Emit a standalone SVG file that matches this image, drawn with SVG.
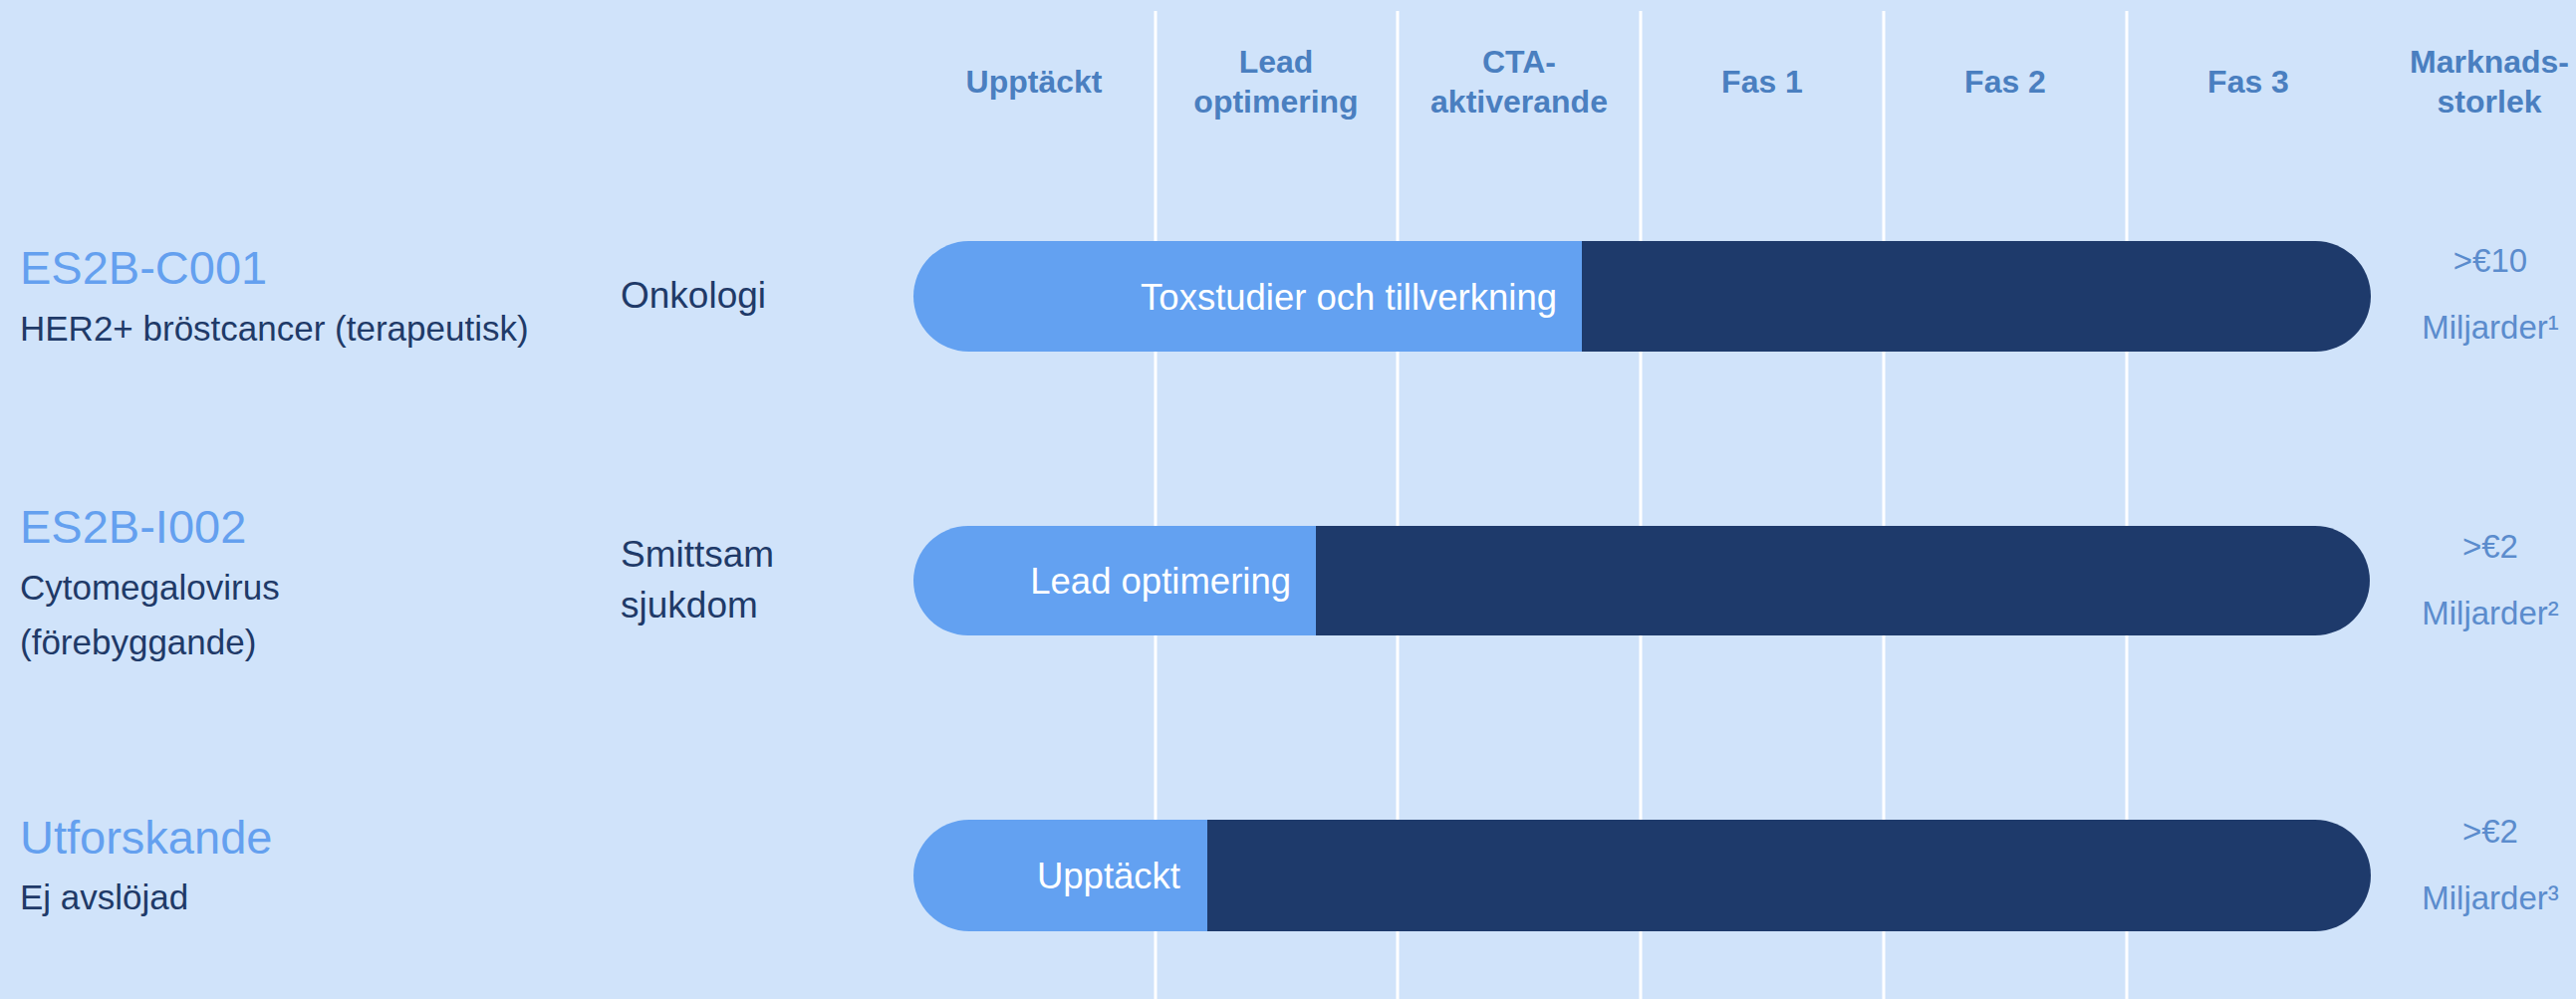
<svg xmlns="http://www.w3.org/2000/svg" width="2586" height="1003" viewBox="0 0 2586 1003">
<style>
.hd{font-family:"Liberation Sans",Arial,sans-serif;font-weight:bold;font-size:32px;fill:#4a7fc0;text-anchor:middle}
.ttl{font-family:"Liberation Sans",Arial,sans-serif;font-size:47px;fill:#64a0ef}
.sub{font-family:"Liberation Sans",Arial,sans-serif;font-size:35px;fill:#1f3a68}
.area{font-family:"Liberation Sans",Arial,sans-serif;font-size:37px;fill:#1f3a68}
.bt{font-family:"Liberation Sans",Arial,sans-serif;font-size:36.5px;fill:#ffffff;text-anchor:end}
.mk{font-family:"Liberation Sans",Arial,sans-serif;font-size:33px;fill:#5b8ccd;text-anchor:middle}
.lt{fill:#63a1f1}
.dk{fill:#1e3a6b}
.grid{stroke:#ffffff;stroke-width:3}
</style>
<rect x="0" y="0" width="2586" height="1003" fill="#d0e3fa"/>
<g id="grid">
<line class="grid" x1="1160" y1="11" x2="1160" y2="1003"/>
<line class="grid" x1="1403" y1="11" x2="1403" y2="1003"/>
<line class="grid" x1="1647" y1="11" x2="1647" y2="1003"/>
<line class="grid" x1="1891" y1="11" x2="1891" y2="1003"/>
<line class="grid" x1="2135" y1="11" x2="2135" y2="1003"/>
</g>
<g id="header">
<text class="hd" x="1038" y="93">Upptäckt</text>
<text class="hd" x="1281" y="73">Lead</text>
<text class="hd" x="1281" y="113">optimering</text>
<text class="hd" x="1525" y="73">CTA-</text>
<text class="hd" x="1525" y="113">aktiverande</text>
<text class="hd" x="1769" y="93">Fas 1</text>
<text class="hd" x="2013" y="93">Fas 2</text>
<text class="hd" x="2257" y="93">Fas 3</text>
<text class="hd" x="2499" y="73">Marknads-</text>
<text class="hd" x="2499" y="113">storlek</text>
</g>
<g id="row1">
<text class="ttl" x="20" y="285">ES2B-C001</text>
<text class="sub" x="20" y="342">HER2+ bröstcancer (terapeutisk)</text>
<text class="area" x="623" y="309">Onkologi</text>
<path class="dk" d="M1580 242 H2324.5 A55.5 55.5 0 0 1 2324.5 353 H1580 Z"/>
<path class="lt" d="M972.5 242 H1588 V353 H972.5 A55.5 55.5 0 0 1 972.5 242 Z"/>
<text class="bt" x="1563" y="311">Toxstudier och tillverkning</text>
<text class="mk" x="2500" y="273">&gt;€10</text>
<text class="mk" x="2500" y="340">Miljarder¹</text>
</g>
<g id="row2">
<text class="ttl" x="20" y="545">ES2B-I002</text>
<text class="sub" x="20" y="602">Cytomegalovirus</text>
<text class="sub" x="20" y="657">(förebyggande)</text>
<text class="area" x="623" y="569">Smittsam</text>
<text class="area" x="623" y="620">sjukdom</text>
<path class="dk" d="M1313 528 H2324 A55 55 0 0 1 2324 638 H1313 Z"/>
<path class="lt" d="M972 528 H1321 V638 H972 A55 55 0 0 1 972 528 Z"/>
<text class="bt" x="1296" y="596">Lead optimering</text>
<text class="mk" x="2500" y="560">&gt;€2</text>
<text class="mk" x="2500" y="627">Miljarder²</text>
</g>
<g id="row3">
<text class="ttl" x="20" y="857">Utforskande</text>
<text class="sub" x="20" y="913">Ej avslöjad</text>
<path class="dk" d="M1204 823 H2324 A56 56 0 0 1 2324 935 H1204 Z"/>
<path class="lt" d="M973 823 H1212 V935 H973 A56 56 0 0 1 973 823 Z"/>
<text class="bt" x="1185" y="892">Upptäckt</text>
<text class="mk" x="2500" y="846">&gt;€2</text>
<text class="mk" x="2500" y="913">Miljarder³</text>
</g>
</svg>
